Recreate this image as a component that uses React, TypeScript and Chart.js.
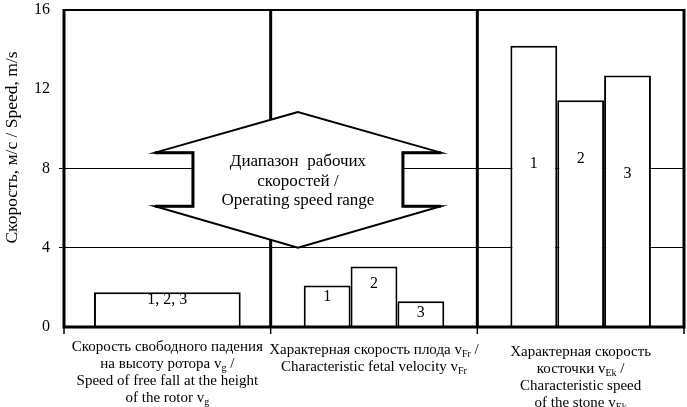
import React, { useEffect, useRef } from "react";
import { Chart, registerables } from "chart.js";

Chart.register(...registerables);

// ---------- data ----------
const categories = ["Free fall", "Fetal", "Stone"];
const combinedValues = [1.75, null, null];
const series1 = [null, 2.1, 14.2];
const series2 = [null, 3.05, 11.45];
const series3 = [null, 1.3, 12.7];
const barLabels = ["1, 2, 3", "1", "2", "3"];
const combinedLabelAt = [1.35, null, null];
const series1LabelAt = [null, 1.5, 8.25];
const series2LabelAt = [null, 2.2, 8.5];
const series3LabelAt = [null, 0.7, 7.75];
const yTicks = [0, 4, 8, 12, 16];
const gridValues = [4, 8];
const yTitle = "Скорость, м/с / Speed, m/s";
const categoryLabels = [
  ["Скорость свободного падения", "на высоту ротора v_{g} /", "Speed of free fall at the height", "of the rotor v_{g}"],
  ["Характерная скорость плода v_{Fr} /", "Characteristic fetal velocity v_{Fr}"],
  ["Характерная скорость", "косточки v_{Ek} /", "Characteristic speed", "of the stone v_{Ek}"],
];
const categoryLabelShift = [0, 3, 5];
const rangeLabel = ["Диапазон  рабочих", "скоростей /", "Operating speed range"];
// annotation outline (category index units, speed units)
const arrowX = [0.632, -0.06, 0.124, 0.124, -0.06, 0.632, 1.324, 1.14, 1.14, 1.324];
const arrowY = [10.85, 8.8, 8.8, 6.1, 6.1, 4.0, 6.1, 6.1, 8.8, 8.8];

const FONT = "'Liberation Serif', 'Times New Roman', serif";

function drawRich(ctx: CanvasRenderingContext2D, text: string, cx: number, cy: number, size: number) {
  const parts: { t: string; sub: boolean }[] = [];
  const re = /_\{([^}]*)\}/g;
  let last = 0;
  let m: RegExpExecArray | null;
  while ((m = re.exec(text))) {
    if (m.index > last) parts.push({ t: text.slice(last, m.index), sub: false });
    parts.push({ t: m[1], sub: true });
    last = re.lastIndex;
  }
  if (last < text.length) parts.push({ t: text.slice(last), sub: false });
  const subSize = Math.round(size * 0.65);
  let total = 0;
  const widths = parts.map((p) => {
    ctx.font = `${p.sub ? subSize : size}px ${FONT}`;
    const w = ctx.measureText(p.t).width;
    total += w;
    return w;
  });
  let x = cx - total / 2;
  ctx.textAlign = "left";
  ctx.textBaseline = "middle";
  parts.forEach((p, i) => {
    ctx.font = `${p.sub ? subSize : size}px ${FONT}`;
    ctx.fillText(p.t, x, cy + (p.sub ? size * 0.3 : 0));
    x += widths[i];
  });
}

const decorPlugin = {
  id: "decor",
  beforeDatasetsDraw(chart: any) {
    const ctx: CanvasRenderingContext2D = chart.ctx;
    const { top, bottom } = chart.chartArea;
    const xs = chart.scales.x;
    const ys = chart.scales.y;
    ctx.save();
    ctx.strokeStyle = "#000";
    // category separators
    ctx.lineWidth = 3;
    for (let i = 0; i < categories.length - 1; i++) {
      const px = (xs.getPixelForValue(i) + xs.getPixelForValue(i + 1)) / 2;
      ctx.beginPath();
      ctx.moveTo(px, top);
      ctx.lineTo(px, bottom);
      ctx.stroke();
    }
    // range annotation
    const pts = arrowX.map((v, i) => [xs.getPixelForValue(v), ys.getPixelForValue(arrowY[i])]);
    ctx.beginPath();
    pts.forEach((p, i) => (i === 0 ? ctx.moveTo(p[0], p[1]) : ctx.lineTo(p[0], p[1])));
    ctx.closePath();
    ctx.fillStyle = "#fff";
    ctx.fill();
    ctx.lineWidth = 2;
    ctx.stroke();
    ctx.lineWidth = 3;
    ctx.beginPath();
    ctx.moveTo(pts[1][0], pts[1][1]);
    ctx.lineTo(pts[2][0], pts[2][1]);
    ctx.lineTo(pts[3][0], pts[3][1]);
    ctx.lineTo(pts[4][0], pts[4][1]);
    ctx.moveTo(pts[6][0], pts[6][1]);
    ctx.lineTo(pts[7][0], pts[7][1]);
    ctx.lineTo(pts[8][0], pts[8][1]);
    ctx.lineTo(pts[9][0], pts[9][1]);
    ctx.stroke();
    ctx.fillStyle = "#000";
    const cx = pts[0][0];
    const cy = (pts[2][1] + pts[3][1]) / 2 + 2;
    rangeLabel.forEach((line, i) => {
      drawRich(ctx, line, cx, cy + (i - 1) * 19.5, 17);
    });
    ctx.restore();
  },
  afterDraw(chart: any) {
    const ctx: CanvasRenderingContext2D = chart.ctx;
    const { left, right, top, bottom } = chart.chartArea;
    const xs = chart.scales.x;
    const ys = chart.scales.y;
    ctx.save();
    ctx.strokeStyle = "#000";
    ctx.fillStyle = "#000";
    // frame
    ctx.lineWidth = 2;
    ctx.beginPath();
    ctx.moveTo(left, top);
    ctx.lineTo(right, top);
    ctx.stroke();
    ctx.lineWidth = 3;
    ctx.beginPath();
    ctx.moveTo(left, top - 1);
    ctx.lineTo(left, bottom);
    ctx.lineTo(right, bottom);
    ctx.lineTo(right, top - 1);
    ctx.stroke();
    // bottom ticks
    ctx.lineWidth = 1.5;
    for (let i = 0; i <= categories.length; i++) {
      const px = xs.getPixelForValue(i - 0.5);
      ctx.beginPath();
      ctx.moveTo(px, bottom);
      ctx.lineTo(px, bottom + 7);
      ctx.stroke();
    }
    // bar labels
    const labelAt = [combinedLabelAt, series1LabelAt, series2LabelAt, series3LabelAt];
    chart.data.datasets.forEach((_: any, di: number) => {
      const meta = chart.getDatasetMeta(di);
      meta.data.forEach((el: any, idx: number) => {
        const v = labelAt[di][idx];
        if (v === null || v === undefined) return;
        drawRich(ctx, barLabels[di], el.x, ys.getPixelForValue(v), 16);
      });
    });
    // category labels
    categoryLabels.forEach((lines, ci) => {
      const cx = xs.getPixelForValue(ci);
      lines.forEach((line, li) => {
        drawRich(ctx, line, cx, bottom + 20 + categoryLabelShift[ci] + li * 17, 15);
      });
    });
    // y title
    ctx.translate(12, (top + bottom) / 2 - 21);
    ctx.rotate(-Math.PI / 2);
    ctx.font = `17.5px ${FONT}`;
    ctx.textAlign = "center";
    ctx.textBaseline = "middle";
    ctx.fillText(yTitle, 0, 0);
    ctx.restore();
  },
};

export default function App() {
  const ref = useRef<HTMLCanvasElement | null>(null);
  useEffect(() => {
    if (!ref.current) return;
    const common = {
      backgroundColor: "#ffffff",
      borderColor: "#000000",
      borderWidth: 2,
      barPercentage: 1,
    };
    const chart = new Chart(ref.current, {
      type: "bar",
      data: {
        labels: categories,
        datasets: [
          { ...common, label: barLabels[0], data: combinedValues, categoryPercentage: 0.71 },
          { ...common, label: barLabels[1], data: series1, categoryPercentage: 0.68 },
          { ...common, label: barLabels[2], data: series2, categoryPercentage: 0.68 },
          { ...common, label: barLabels[3], data: series3, categoryPercentage: 0.68 },
        ] as any,
      },
      options: {
        responsive: false,
        maintainAspectRatio: false,
        animation: false,
        layout: { padding: { top: 10, right: 3, left: 0, bottom: 0 } },
        datasets: { bar: { skipNull: true } } as any,
        plugins: { legend: { display: false }, tooltip: { enabled: false } },
        scales: {
          x: {
            type: "category",
            offset: true,
            grid: { display: false },
            border: { display: false },
            ticks: { display: false },
            afterFit: (s: any) => {
              s.height = 80;
              s.paddingLeft = 0;
              s.paddingRight = 0;
            },
          },
          y: {
            min: 0,
            max: 16,
            afterBuildTicks: (s: any) => {
              s.ticks = yTicks.map((v) => ({ value: v }));
            },
            ticks: { font: { family: FONT, size: 16 }, color: "#000", padding: 9 },
            grid: {
              color: (c: any) => (c.tick && gridValues.includes(c.tick.value) ? "#000" : "rgba(0,0,0,0)"),
              lineWidth: 1,
              tickLength: 5,
              drawTicks: true,
            },
            border: { display: false },
            afterFit: (s: any) => {
              s.width = 64;
              s.paddingTop = 0;
              s.paddingBottom = 0;
            },
          },
        },
      } as any,
      plugins: [decorPlugin],
    });
    return () => chart.destroy();
  }, []);
  return (
    <div style={{ position: "absolute", left: 0, top: 0, width: 687, height: 407 }}>
      <canvas ref={ref} width={687} height={407} style={{ width: 687, height: 407 }} />
    </div>
  );
}
